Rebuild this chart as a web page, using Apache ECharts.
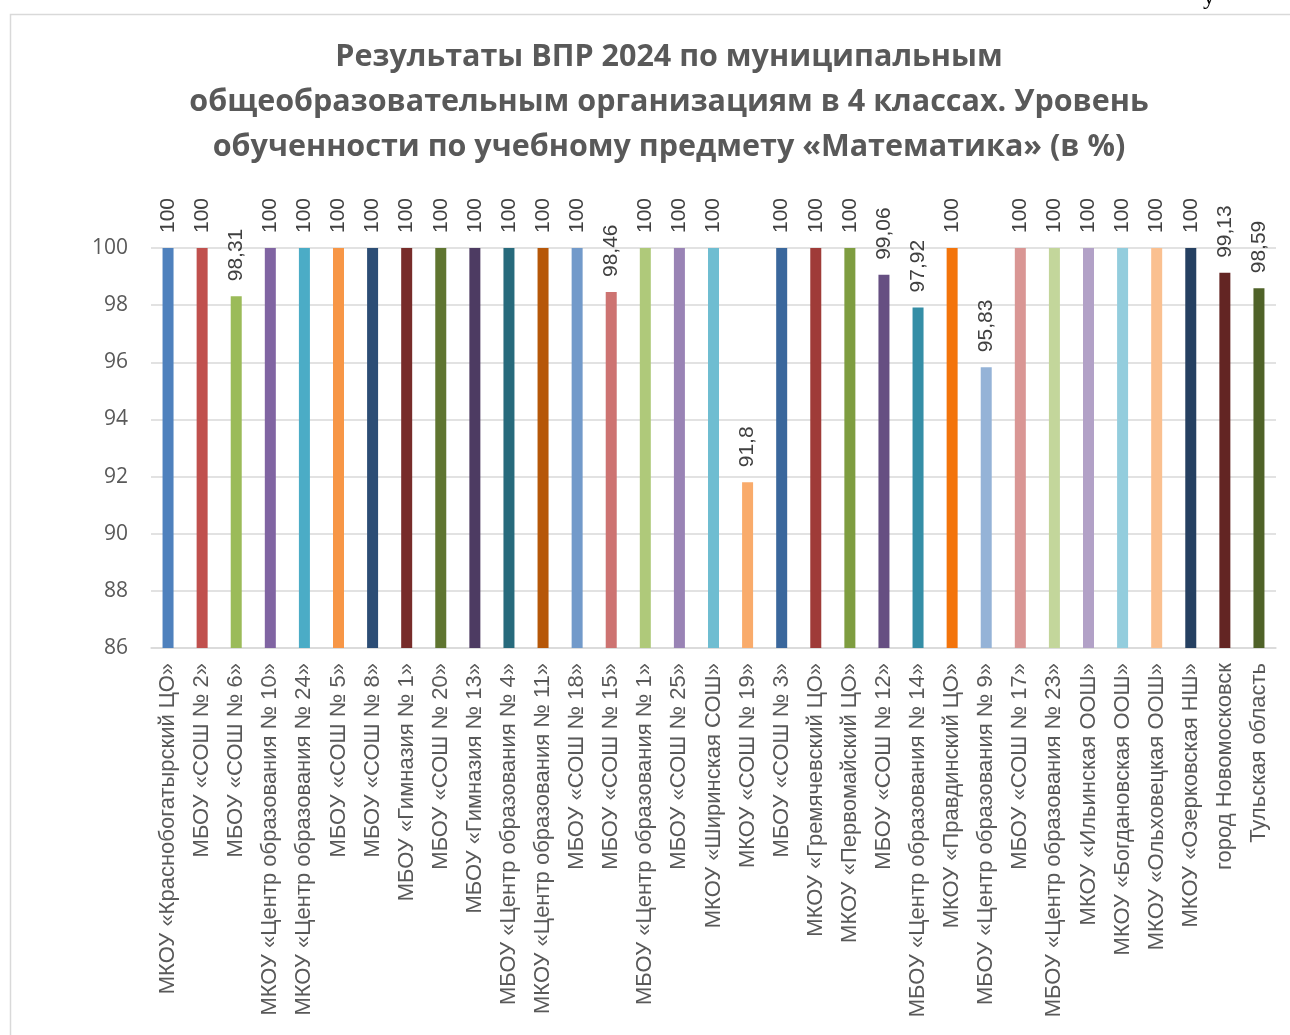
<!DOCTYPE html>
<html>
<head>
<meta charset="utf-8">
<script src="https://cdn.jsdelivr.net/npm/echarts@6/dist/echarts.min.js"></script>
<style>html,body{margin:0;padding:0;background:#fff}#c{width:1290px;height:1035px}</style>
</head>
<body>
<div id="c"></div>
<script>
const titleLines = [
  'Результаты ВПР 2024 по муниципальным',
  'общеобразовательным организациям в 4 классах. Уровень',
  'обученности по учебному предмету «Математика» (в %)'
];
const categories = [
  'МКОУ «Краснобогатырский ЦО»','МБОУ «СОШ № 2»','МБОУ «СОШ № 6»',
  'МКОУ «Центр образования № 10»','МКОУ «Центр образования № 24»','МБОУ «СОШ № 5»',
  'МБОУ «СОШ № 8»','МБОУ «Гимназия № 1»','МБОУ «СОШ № 20»','МБОУ «Гимназия № 13»',
  'МБОУ «Центр образования № 4»','МКОУ «Центр образования № 11»','МБОУ «СОШ № 18»',
  'МБОУ «СОШ № 15»','МБОУ «Центр образования № 1»','МБОУ «СОШ № 25»','МКОУ «Ширинская СОШ»',
  'МКОУ «СОШ № 19»','МБОУ «СОШ № 3»','МКОУ «Гремячевский ЦО»','МКОУ «Первомайский ЦО»',
  'МБОУ «СОШ № 12»','МБОУ «Центр образования № 14»','МКОУ «Правдинский ЦО»',
  'МБОУ «Центр образования № 9»','МБОУ «СОШ № 17»','МБОУ «Центр образования № 23»',
  'МКОУ «Ильинская ООШ»','МКОУ «Богдановская ООШ»','МКОУ «Ольховецкая ООШ»',
  'МКОУ «Озерковская НШ»','город Новомосковск','Тульская область'
];
const values = [
  100,100,98.31,100,100,100,100,100,100,100,100,100,100,98.46,100,100,100,
  91.8,100,100,100,99.06,97.92,100,95.83,100,100,100,100,100,100,99.13,98.59
];
const colors = [
  '#4F81BD','#C0504D','#9BBB59','#8064A2','#4BACC6','#F79646','#2C4D75','#772C2A',
  '#5F7530','#4D3B62','#276A7C','#B65708','#729ACA','#CD7371','#AFC97A','#9983B5',
  '#6FBDD1','#F9AB6B','#3A679C','#9F3B38','#7E9D40','#664F82','#358EA6','#F3740B',
  '#95B3D7','#D99694','#C3D69B','#B2A1C7','#93CDDD','#FAC090','#254061','#632523','#4F6228'
];
const yMin = 86, yMax = 100, yInterval = 2;

const chart = echarts.init(document.getElementById('c'), null, {renderer: 'canvas'});
chart.setOption({
  animation: false,
  backgroundColor: '#fff',
  graphic: [
    {type: 'rect', left: 8, top: 12, shape: {width: 1300, height: 1040},
     style: {fill: 'none', stroke: '#d9d9d9', lineWidth: 1.5}, silent: true},
    {type: 'text', left: 1203, top: -14, style: {text: 'у', font: '24px "Liberation Serif"', fill: '#000'}},
    {type: 'text', x: 669, y: 35, style: {
      text: titleLines.join('\n'), textAlign: 'center', textVerticalAlign: 'top',
      font: 'bold 30.5px "Open Sans"', fill: '#595959', lineHeight: 45}}
  ],
  grid: {left: 151, right: 14, top: 248, bottom: 387, containLabel: false},
  xAxis: {
    type: 'category',
    data: categories,
    axisLine: {lineStyle: {color: '#d9d9d9', width: 1.5}},
    axisTick: {show: false},
    axisLabel: {rotate: 90, interval: 0, margin: 15, fontFamily: 'Liberation Sans', fontSize: 22, color: '#595959'}
  },
  yAxis: {
    type: 'value',
    min: yMin, max: yMax, interval: yInterval,
    axisLine: {show: false},
    axisTick: {show: false},
    splitLine: {lineStyle: {color: '#d9d9d9', width: 1.5}},
    axisLabel: {margin: 23, fontFamily: 'Open Sans', fontSize: 21, color: '#595959'}
  },
  series: [{
    type: 'bar',
    data: values.map((v, i) => ({value: v, itemStyle: {color: colors[i]}})),
    barWidth: 11,
    label: {
      show: true,
      position: 'top',
      distance: 15,
      rotate: 90,
      align: 'left',
      verticalAlign: 'middle',
      fontFamily: 'Liberation Sans',
      fontSize: 21,
      color: '#404040',
      formatter: p => String(p.value).replace('.', ',')
    }
  }]
});
</script>
</body>
</html>
